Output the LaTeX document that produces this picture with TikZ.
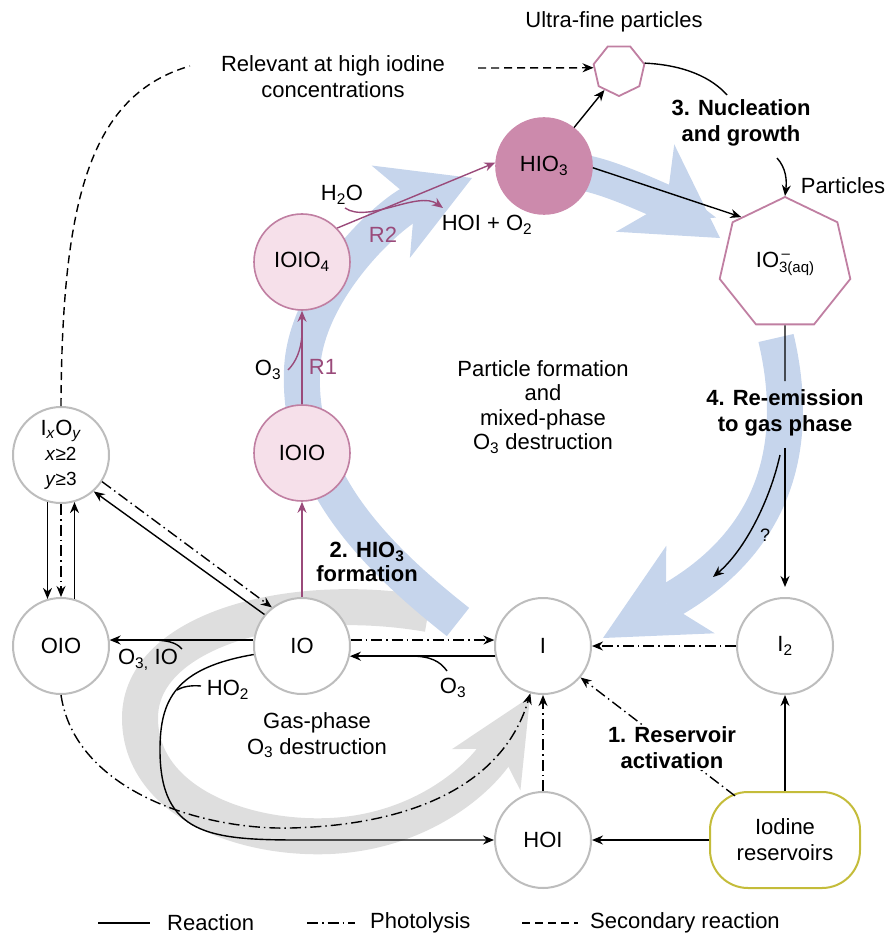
\documentclass[tikz,border=0pt]{standalone}
\usepackage{fontspec}
\setmainfont{Liberation Sans}
\usetikzlibrary{arrows.meta,shapes.geometric,calc}
\definecolor{bandblue}{HTML}{C6D5EC}
\definecolor{bandgray}{HTML}{DEDEDE}
\definecolor{purp}{HTML}{9A4A7A}
\definecolor{pinkfill}{HTML}{F6E0EA}
\definecolor{pinkdraw}{HTML}{C07FA2}
\definecolor{hiofill}{HTML}{CC8AAC}
\definecolor{circgray}{HTML}{BDBDBD}
\definecolor{resdraw}{HTML}{C4BC3A}
\newcommand{\chsub}[1]{\textsubscript{#1}}
\begin{document}
\begin{tikzpicture}[x=1pt,y=-1pt,
  every node/.style={font=\fontsize{22}{26}\selectfont},
  species/.style={circle,draw=circgray,line width=2pt,fill=white,minimum size=96pt,inner sep=0pt},
  pinksp/.style={circle,draw=pinkdraw,line width=1.6pt,fill=pinkfill,minimum size=96pt,inner sep=0pt},
  hiosp/.style={circle,draw=hiofill,line width=1.6pt,fill=hiofill,minimum size=96pt,inner sep=0pt},
  hept/.style={regular polygon,regular polygon sides=7,draw=pinkdraw,line width=1.8pt,fill=white,inner sep=0pt},
  resbox/.style={rectangle,rounded corners=38pt,draw=resdraw,line width=2pt,fill=white,minimum width=150pt,minimum height=96pt,align=center,inner sep=0pt},
  boldtxt/.style={font=\fontsize{22}{26}\selectfont\bfseries},
  plain/.style={line width=1.4pt},
  arr/.style={-{Stealth[length=11pt,width=9pt]}},
  rx/.style={plain,arr},
  photo/.style={line width=1.4pt,dash pattern=on 11pt off 4pt on 1.5pt off 4pt},
  sec/.style={line width=1.4pt,dash pattern=on 8pt off 5pt},
  pline/.style={line width=1.4pt,draw=purp},
  prx/.style={pline,arr},
  bigband/.style={line width=36pt},
]
\useasboundingbox (0,0) rectangle (895,941);

% ---- broad flow bands ----
\draw[bandgray,bigband,-{Stealth[length=85pt,width=80pt,inset=25pt,line width=0pt]}]
  (428,614) .. controls (290,590) and (140,630) .. (140,718)
  .. controls (140,800) and (240,840) .. (330,836)
  .. controls (420,832) and (480,780) .. (530,697);
\draw[bandblue,bigband,-{Stealth[length=88pt,width=100pt,inset=26pt,line width=0pt]}]
  (458,622) .. controls (360,545) and (298,470) .. (302,370)
  .. controls (305,290) and (390,212) .. (472,178);
\draw[bandblue,bigband,-{Stealth[length=90pt,width=105pt,inset=26pt,line width=0pt]}]
  (578,172) .. controls (610,175) and (678,210) .. (720,238);
\draw[bandblue,bigband,-{Stealth[length=100pt,width=100pt,inset=28pt,line width=0pt]}]
  (776,338) .. controls (800,440) and (780,540) .. (603,638);

% ---- species ----
\node[species,align=center,font=\fontsize{22}{25}\selectfont] (ixoy) at (61,455)
  {I\chsub{\textit{x}}O\chsub{\textit{y}}\\{\fontsize{19}{24}\selectfont\textit{x}≥2}\\{\fontsize{19}{24}\selectfont\textit{y}≥3}};
\node[species] (oio) at (61,646) {OIO};
\node[species] (io) at (302,646) {IO};
\node[species] (iat) at (543,646) {I};
\node[species] (i2) at (785,646) {I\chsub{2}};
\node[species] (hoi) at (543,840) {HOI};
\node[resbox] (res) at (785,840) {Iodine\\reservoirs};
\node[pinksp] (ioio) at (302,453) {IOIO};
\node[pinksp] (ioio4) at (302,262) {IOIO\chsub{4}};
\node[hiosp] (hio3) at (544,166) {HIO\chsub{3}};
\node[hept,minimum size=52pt,shape border rotate=180] (uf) at (619,70) {};
\node[hept,minimum size=134pt] (part) at (785,264)
  {IO\rlap{\raisebox{9pt}{\fontsize{15}{15}\selectfont\,–}}\raisebox{-5pt}{\fontsize{15}{15}\selectfont 3(aq)}};

% ---- labels ----
\node (ufl) at (614,22) {Ultra-fine particles};
\node[align=center] (rel) at (333,77) {Relevant at high iodine\\concentrations};
\node[boldtxt,align=center] (nuc) at (741,123) {3. Nucleation\\and growth};
\node (partl) at (843,186) {Particles};
\node (h2o) at (342,195) {H\chsub{2}O};
\node (hoio2) at (487,225) {HOI + O\chsub{2}};
\node[text=purp] (r2) at (383,235) {R2};
\node (o3a) at (268,370) {O\chsub{3}};
\node[text=purp] (r1) at (323,367) {R1};
\node[align=center,font=\fontsize{22}{24.5}\selectfont] (pf) at (543,407) {Particle formation\\and\\mixed-phase\\O\chsub{3} destruction};
\node[boldtxt,align=center] (reem) at (785,413) {4. Re-emission\\to gas phase};
\node[font=\fontsize{18}{20}\selectfont] (q) at (765,535) {?};
\node[boldtxt,align=center,font=\fontsize{22}{24}\selectfont\bfseries] (hform) at (367,562) {2. HIO\chsub{3}\\formation};
\node (o3io) at (148,660) {O\chsub{3,} IO};
\node (ho2) at (228,690) {HO\chsub{2}};
\node (o3b) at (453,688) {O\chsub{3}};
\node[align=center] (gas) at (317,735) {Gas-phase\\O\chsub{3} destruction};

% ---- gas phase connectors ----
\draw[rx] (ixoy.-106) -- (oio.106);
\draw[photo,arr] (ixoy.south) -- (oio.north);
\draw[rx] (oio.74) -- (ixoy.-74);
\draw[rx] (io.140) -- (ixoy.-48);
\draw[photo,arr] (ixoy.-33) -- (io.128);
\draw[rx] (io.173) -- (oio.7);
\draw[plain] (182,649) .. controls (176,642) and (166,640) .. (150,640);
\draw[rx] (io.190) .. controls (175,668) and (160,700) .. (160,750)
  .. controls (160,835) and (210,840) .. (300,840) -- (hoi.west);
\draw[plain] (201,686) .. controls (190,685) and (182,687) .. (177,690);
\draw[photo,arr] (oio.south) .. controls (75,790) and (200,830) .. (290,828)
  .. controls (420,825) and (505,780) .. (iat.-105);
\draw[photo,arr] (hoi.north) -- (iat.south);
\draw[photo,arr] (io.7) -- (iat.173);
\draw[rx] (iat.192) -- (io.-12);
\draw[plain] (447,671) .. controls (440,661) and (430,656) .. (410,656);
\draw[photo,arr] (i2.west) -- (iat.east);
\draw[photo,arr,shorten <=-8pt] (res.139) -- (iat.-40);
\draw[rx] (res.north) -- (i2.south);
\draw[rx] (res.west) -- (hoi.east);
\node[boldtxt,align=center,fill=white,inner sep=1pt] (act) at (672,748) {1. Reservoir\\activation};

% ---- particle formation connectors ----
\draw[prx] (io.north) -- (ioio.south);
\draw[prx] (ioio.north) -- (ioio4.south);
\draw[pline] (288,370) .. controls (296,362) and (301,350) .. (302,335);
\draw[prx] (ioio4.44) -- (hio3.176);
\draw[prx] (345,208) .. controls (368,224) and (418,190) .. (443,208);
\draw[rx] (hio3.52) -- (uf.-126);
\draw[rx] (hio3.-2) -- (part.133);
\coordinate (relend) at (478,68);
\draw[sec,arr] (relend) -- (uf.175);
\draw[sec] (ixoy.north) .. controls (62,200) and (90,95) .. (190,66);
\draw[plain] (uf.15) .. controls (685,65) and (712,78) .. (727,95);
\draw[rx] (777,158) .. controls (786,168) and (787,180) .. (part.north);
\draw[plain,shorten >=5pt] (part.south) -- (reem.north);
\draw[rx,shorten <=8pt,shorten >=10pt] (reem.south) -- (i2.north);
\draw[rx] (780,455) .. controls (770,500) and (745,550) .. (713,577);

% ---- legend ----
\draw[plain] (98,923) -- (150,923);
\node[anchor=west,inner sep=0pt] (lg1) at (167,923) {Reaction};
\draw[photo] (307,923) -- (355,923);
\node[anchor=west,inner sep=0pt] (lg2) at (370,923) {Photolysis};
\draw[sec] (522,923) -- (578,923);
\node[anchor=west,inner sep=0pt] (lg3) at (590,923) {Secondary reaction};
\end{tikzpicture}
\end{document}
